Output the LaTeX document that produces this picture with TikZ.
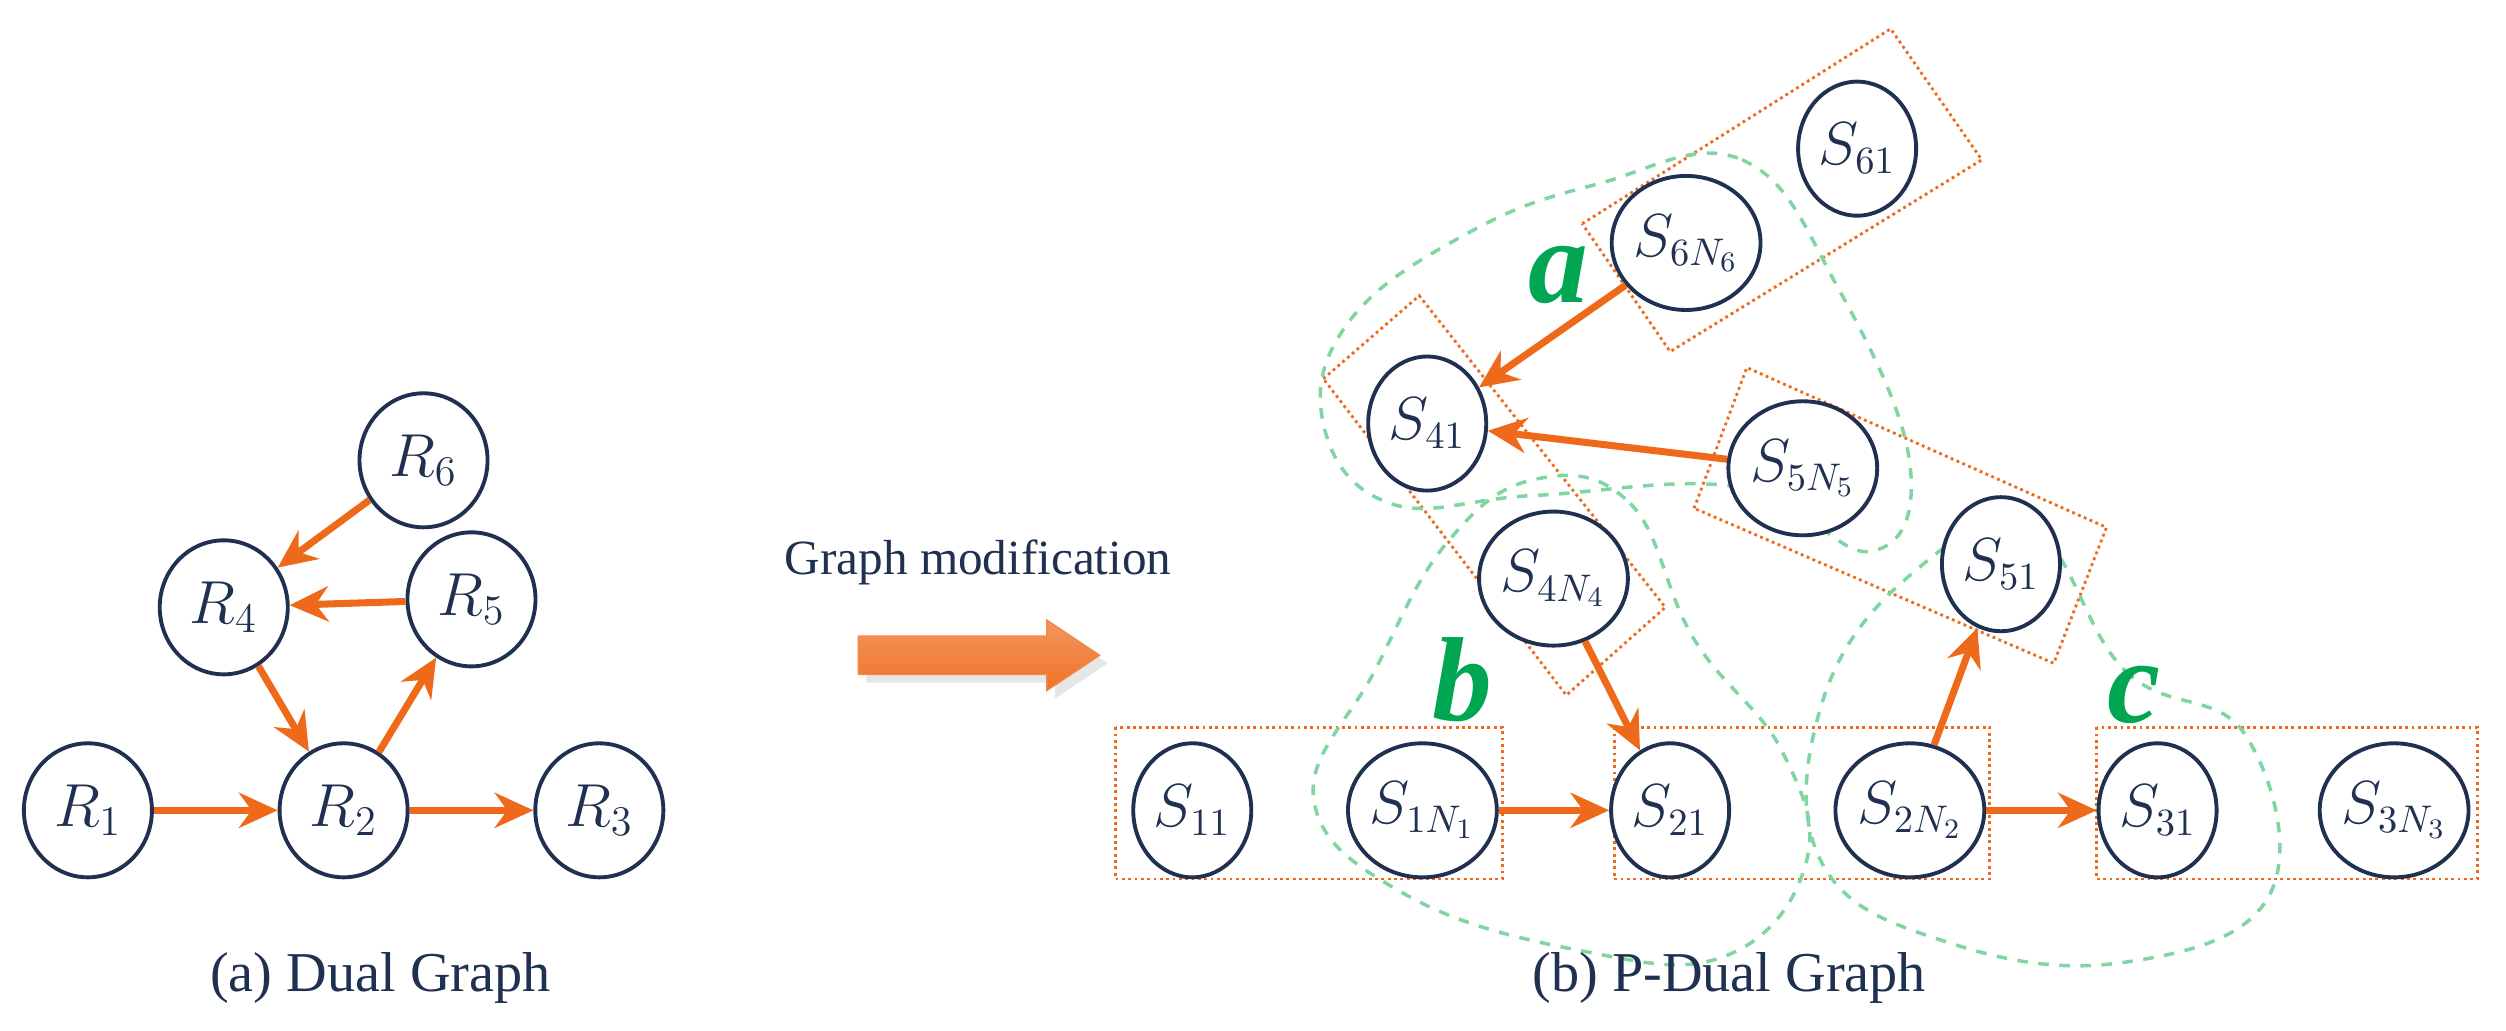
\documentclass[tikz,border=0pt]{standalone}
\usepackage{fontspec}
\setmainfont{Liberation Serif}
\usetikzlibrary{arrows.meta,shapes.geometric,shadows}
\definecolor{navy}{HTML}{1F3050}
\definecolor{orng}{HTML}{EE6A1A}
\definecolor{grn}{HTML}{00A651}
\definecolor{lgrn}{HTML}{7FD6A0}
\begin{document}
\begin{tikzpicture}[x=0.01598cm,y=-0.01598cm,
 nd/.style={ellipse,draw=navy,line width=1.1pt,fill=white,minimum width=1.28cm,minimum height=1.34cm,inner sep=0pt,text=navy,font=\fontsize{17}{17}\selectfont},
 sn/.style={nd,minimum width=1.18cm,minimum height=1.34cm,font=\fontsize{16}{16}\selectfont},
 ar/.style={draw=orng,line width=2pt,-{Stealth[length=11pt,width=10pt]}},
 box/.style={draw=orng,densely dotted,line width=0.8pt},
 blob/.style={draw=lgrn,dashed,line width=1pt},
 lab/.style={text=grn,font=\fontsize{34}{34}\selectfont\bfseries\itshape},
 capt/.style={text=navy,font=\fontsize{14}{15}\selectfont}]
\useasboundingbox (0,0) rectangle (1568,645);
% boxes
\draw[box] (698,455) rectangle (940,550);
\draw[box] (1010,455) rectangle (1245,550);
\draw[box] (1312,455) rectangle (1550,550);
\draw[box] (990,140) -- (1183,18) -- (1240,100) -- (1045,220) -- cycle;
\draw[box] (828,237) -- (888,185) -- (1042,380) -- (980,435) -- cycle;
\draw[box] (1060,318) -- (1093,230) -- (1318,330) -- (1285,415) -- cycle;
% blobs
\draw[blob] plot[smooth cycle,tension=0.7] coordinates {(1000,115) (1090,100) (1150,180) (1195,290) (1170,345) (1090,305) (960,310) (870,315) (828,265) (845,200) (920,145)};
\draw[blob] plot[smooth cycle,tension=0.7] coordinates {(960,300) (1020,315) (1060,400) (1115,470) (1130,540) (1080,598) (990,595) (880,560) (822,500) (860,420) (905,340)};
\draw[blob] plot[smooth cycle,tension=0.7] coordinates {(1270,330) (1330,420) (1405,460) (1420,560) (1330,602) (1220,590) (1140,540) (1140,440) (1195,360)};
% left nodes
\node[nd] (R6) at (265,288) {$R_6$};
\node[nd] (R4) at (140,380) {$R_4$};
\node[nd] (R5) at (295,375) {$R_5$};
\node[nd] (R1) at (55,507) {$R_1$};
\node[nd] (R2) at (215,507) {$R_2$};
\node[nd] (R3) at (375,507) {$R_3$};
\draw[ar] (R6) -- (R4);
\draw[ar] (R5) -- (R4);
\draw[ar] (R4) -- (R2);
\draw[ar] (R2) -- (R5);
\draw[ar] (R1) -- (R2);
\draw[ar] (R2) -- (R3);
% right nodes
\node[sn] (S61) at (1162,93) {$S_{61}$};
\node[sn] (S6N) at (1055,152) {$S_{6N_6}$};
\node[sn] (S41) at (893,265) {$S_{41}$};
\node[sn] (S5N) at (1128,293) {$S_{5N_5}$};
\node[sn] (S4N) at (972,362) {$S_{4N_4}$};
\node[sn] (S51) at (1252,353) {$S_{51}$};
\node[sn] (S11) at (746,507) {$S_{11}$};
\node[sn] (S1N) at (890,507) {$S_{1N_1}$};
\node[sn] (S21) at (1045,507) {$S_{21}$};
\node[sn] (S2N) at (1195,507) {$S_{2N_2}$};
\node[sn] (S31) at (1350,507) {$S_{31}$};
\node[sn] (S3N) at (1498,507) {$S_{3N_3}$};
\draw[ar] (S6N) -- (S41);
\draw[ar] (S5N) -- (S41);
\draw[ar] (S4N) -- (S21);
\draw[ar] (S1N) -- (S21);
\draw[ar] (S2N) -- (S51);
\draw[ar] (S2N) -- (S31);
% labels
\node[lab] (la) at (975,172) {a};
\node[lab] (lb) at (915,425) {b};
\node[lab] (lc) at (1335,435) {c};
\node[capt] (gm) at (612,352) {Graph modification};
\fill[top color=orng!70,bottom color=orng!95,draw=orng!80,drop shadow={opacity=0.2}]
  (537,398) -- (655,398) -- (655,388) -- (688,410) -- (655,432) -- (655,422) -- (537,422) -- cycle;
\node[capt,font=\fontsize{16}{17}\selectfont] (c1) at (238,612) {(a) Dual Graph};
\node[capt,font=\fontsize{16}{17}\selectfont] (c2) at (1082,612) {(b) P-Dual Graph};
\end{tikzpicture}
\end{document}
